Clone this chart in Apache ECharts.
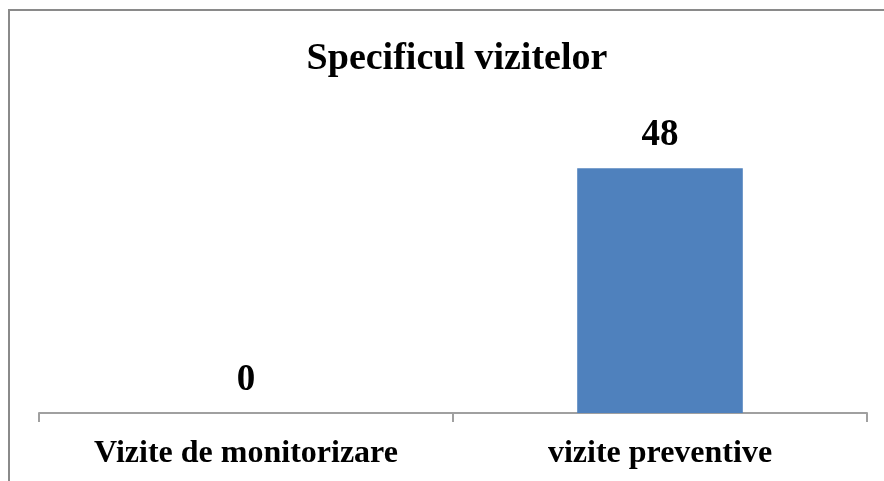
<!DOCTYPE html>
<html>
<head>
<meta charset="utf-8">
<script src="https://cdn.jsdelivr.net/npm/echarts@6/dist/echarts.min.js"></script>
<style>html,body{margin:0;padding:0;background:#fff}#c{width:884px;height:481px}</style>
</head>
<body>
<div id="c"></div>
<script>
const titleText = "Specificul vizitelor";
const categories = ["Vizite de monitorizare", "vizite preventive"];
const values = [0, 48];

const chart = echarts.init(document.getElementById('c'), null, {renderer: 'canvas'});
const font = "'Liberation Serif', 'Times New Roman', serif";
chart.setOption({
  animation: false,
  backgroundColor: '#ffffff',
  title: {
    text: titleText, left: 452, textAlign: 'center', top: 35, itemGap: 0,
    textStyle: {fontFamily: font, fontWeight: 'bold', fontSize: 38, color: '#000'}
  },
  graphic: [{
    type: 'rect', silent: true,
    shape: {x: 9, y: 10, width: 1000, height: 1000},
    style: {fill: 'none', stroke: '#8a8a8a', lineWidth: 2}
  }],
  grid: {left: 39, right: 17, top: 107, bottom: 68},
  xAxis: {
    type: 'category', data: categories,
    axisLine: {lineStyle: {color: '#a0a0a0', width: 2}},
    axisTick: {show: true, alignWithLabel: false, length: 9, lineStyle: {color: '#a0a0a0', width: 2}},
    axisLabel: {fontFamily: font, fontWeight: 'bold', fontSize: 32, color: '#000', margin: 25}
  },
  yAxis: {type: 'value', min: 0, max: 60, show: false, splitLine: {show: false}},
  series: [{
    type: 'bar', data: values, barWidth: '40%',
    itemStyle: {color: '#4f81bd'},
    label: {show: true, position: 'top', distance: 14, fontFamily: font, fontWeight: 'bold', fontSize: 37, color: '#000'}
  }]
});
</script>
</body>
</html>
